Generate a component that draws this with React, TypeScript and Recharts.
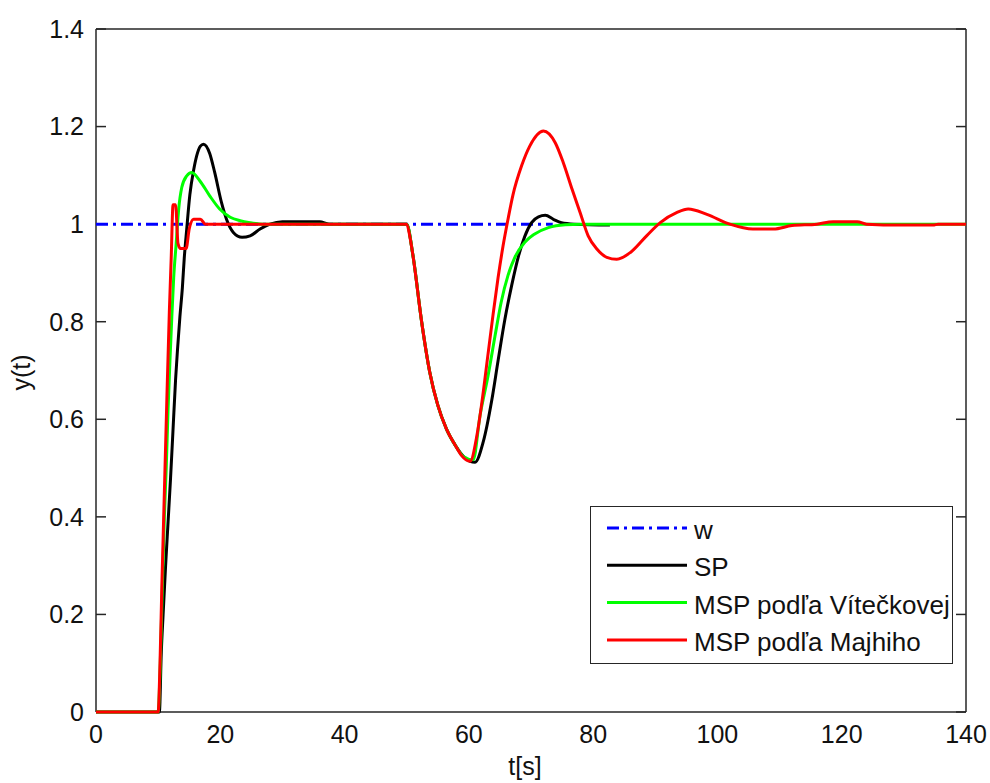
import React from 'react';
import { LineChart, Line, XAxis, YAxis, Legend, Label, CartesianGrid } from 'recharts';

const xTicks = [0, 20, 40, 60, 80, 100, 120, 140];
const yTicks = [0, 0.2, 0.4, 0.6, 0.8, 1, 1.2, 1.4];

const wTime = [0, 73.5];
const wValues = [1, 1];

const spTime = [0, 10.2, 10.5, 10.8, 11.2, 11.6, 12.0, 12.4, 12.8, 13.1, 13.5, 13.9, 14.2, 14.6, 15.1, 15.7, 16.2, 16.8, 17.3, 18.3, 19.1, 20.2, 21.0, 22.1, 23.5, 24.8, 26.4, 28, 30, 36, 37.5, 50, 51, 52.4, 53.7, 55, 56.4, 57.8, 59.1, 60.2, 61, 62.3, 63.7, 64.7, 65.8, 66.9, 68, 69, 70.1, 71.2, 72.3, 73.6, 74.9, 77, 82.7];
const spValues = [0, 0, 0.12, 0.2, 0.3, 0.39, 0.48, 0.58, 0.68, 0.74, 0.81, 0.87, 0.93, 0.99, 1.06, 1.11, 1.14, 1.16, 1.164, 1.145, 1.106, 1.044, 1.01, 0.983, 0.973, 0.976, 0.99, 1.0, 1.005, 1.005, 1.0, 1.0, 0.936, 0.8, 0.697, 0.629, 0.58, 0.547, 0.524, 0.514, 0.512, 0.553, 0.64, 0.72, 0.805, 0.875, 0.935, 0.975, 1.003, 1.015, 1.018, 1.01, 1.003, 1.0, 0.998];

const vitTime = [0, 10.0, 10.3, 10.6, 11.0, 11.3, 11.6, 11.9, 12.2, 12.5, 12.9, 13.3, 13.8, 14.6, 15.4, 16.7, 18.3, 19.9, 21.6, 23.2, 24.8, 27, 50, 51, 52.4, 53.7, 55, 56.4, 57.8, 59.1, 60.7, 61.8, 63.1, 64.2, 65.2, 66.3, 67.4, 69, 70.6, 72.8, 75.5, 78, 140];
const vitValues = [0, 0, 0.08, 0.22, 0.4, 0.5, 0.62, 0.72, 0.81, 0.89, 0.96, 1.03, 1.075, 1.099, 1.106, 1.089, 1.058, 1.031, 1.014, 1.007, 1.003, 1.0, 1.0, 0.936, 0.8, 0.697, 0.629, 0.58, 0.547, 0.524, 0.517, 0.608, 0.69, 0.77, 0.84, 0.895, 0.932, 0.963, 0.98, 0.993, 0.999, 1.0, 1.0];

const majTime = [0, 10.0, 10.3, 10.6, 11.0, 11.4, 11.8, 12.1, 12.4, 12.8, 13.2, 13.6, 14.5, 15.0, 15.7, 16.8, 17.6, 50, 50.5, 51, 52.4, 53.7, 55, 56.4, 57.8, 58.8, 60.2, 61.3, 62.1, 63.1, 63.9, 64.7, 65.5, 66.3, 67.1, 68.5, 69.8, 72, 73.9, 75.2, 76.6, 77.9, 79.2, 80.6, 82.2, 83.8, 86, 88.6, 90.8, 93.5, 95.3, 98.3, 102, 105.7, 109, 112, 116, 118.6, 122.5, 124, 129.4, 134.7, 135.5, 140];
const majValues = [0, 0, 0.1, 0.26, 0.45, 0.64, 0.82, 0.93, 1.04, 1.04, 0.96, 0.95, 0.95, 0.99, 1.01, 1.01, 1.0, 1.0, 0.975, 0.936, 0.8, 0.697, 0.629, 0.58, 0.547, 0.526, 0.514, 0.567, 0.635, 0.735, 0.815, 0.89, 0.955, 1.01, 1.06, 1.12, 1.16, 1.191, 1.167, 1.126, 1.072, 1.024, 0.976, 0.949, 0.932, 0.928, 0.942, 0.976, 1.003, 1.024, 1.031, 1.02, 1.0, 0.99, 0.99, 0.997, 1.0, 1.005, 1.005, 1.0, 0.998, 0.998, 1.0, 1.0];

const seriesNames = ['w', 'SP', 'MSP podľa Vítečkovej', 'MSP podľa Majhiho'];
const seriesColors = ['#0000ff', '#000000', '#00ff00', '#ff0000'];
const seriesDash = ['12 5 3 5', undefined, undefined, undefined];

const toPoints = (ts: number[], vs: number[]) => ts.map((t, i) => ({ t, y: vs[i] }));

const seriesData = [
  toPoints(wTime, wValues),
  toPoints(spTime, spValues),
  toPoints(vitTime, vitValues),
  toPoints(majTime, majValues),
];

const FONT = '"Liberation Sans", Arial, Helvetica, sans-serif';
const AXIS = '#262626';

const noTick = () => <g />;

const bottomEdge = (props: any) => {
  const o = props.offset || {};
  return [(o.top ?? 0) + (o.height ?? 0)];
};

const renderLegend = () => (
  <div
    style={{
      width: 363,
      height: 158,
      border: `1.5px solid ${AXIS}`,
      background: '#fff',
      boxSizing: 'border-box',
    }}
  >
    <svg width={360} height={155} style={{ display: 'block' }}>
      {seriesNames.map((name, i) => {
        const base = 32 + i * 37.3;
        return (
          <g key={name}>
            <line
              x1={16}
              x2={96}
              y1={base - 11}
              y2={base - 11}
              stroke={seriesColors[i]}
              strokeWidth={3}
              strokeDasharray={seriesDash[i]}
            />
            <text x={103} y={base} fontSize={26} fontFamily={FONT} fill="#111">
              {name}
            </text>
          </g>
        );
      })}
    </svg>
  </div>
);

const renderYLabel = (props: any) => {
  const vb = props.viewBox || {};
  const cx = (vb.x ?? 0) + 30;
  const cy = (vb.y ?? 0) + (vb.height ?? 0) / 2 + 2;
  return (
    <text
      x={cx}
      y={cy}
      transform={`rotate(-90 ${cx} ${cy})`}
      textAnchor="middle"
      fontSize={25}
      fontFamily={FONT}
      fill="#111"
    >
      y(t)
    </text>
  );
};

const renderXLabel = (props: any) => {
  const vb = props.viewBox || {};
  const cx = (vb.x ?? 0) + (vb.width ?? 0) / 2 - 6;
  const cy = (vb.y ?? 0) + 63;
  return (
    <text x={cx} y={cy} textAnchor="middle" fontSize={25} fontFamily={FONT} fill="#111">
      t[s]
    </text>
  );
};

export default function App() {
  const tickStyle = { fontSize: 25, fontFamily: FONT, fill: '#111' };
  const tickLineStyle = { stroke: AXIS, strokeWidth: 1.5 };
  return (
    <div style={{ position: 'absolute', left: 0, top: 0, background: '#fff' }}>
      <LineChart width={990} height={783} margin={{ top: 29, right: 24, bottom: 0, left: 0 }}>
        <CartesianGrid
          xAxisId="x"
          yAxisId="y"
          vertical={false}
          horizontalCoordinatesGenerator={bottomEdge}
          stroke={AXIS}
          strokeWidth={1.5}
          strokeDasharray="none"
        />
        <XAxis
          xAxisId="x"
          type="number"
          dataKey="t"
          domain={[0, 140]}
          ticks={xTicks}
          tickLine={false}
          tickSize={6}
          tickMargin={7}
          height={71}
          tick={tickStyle}
          axisLine={false}
        >
          <Label content={renderXLabel} />
        </XAxis>
        <XAxis
          xAxisId="xin"
          orientation="bottom"
          mirror
          type="number"
          domain={[0, 140]}
          allowDataOverflow
          ticks={xTicks}
          tick={noTick}
          tickSize={10}
          axisLine={false}
          tickLine={tickLineStyle}
        />
        <XAxis
          xAxisId="xtop"
          orientation="top"
          mirror
          type="number"
          domain={[0, 140]}
          allowDataOverflow
          ticks={xTicks}
          tick={noTick}
          tickSize={10}
          axisLine={{ stroke: AXIS, strokeWidth: 1.5 }}
          tickLine={tickLineStyle}
        />
        <YAxis
          yAxisId="y"
          type="number"
          domain={[0, 1.4]}
          ticks={yTicks}
          tickLine={false}
          tickSize={6}
          tickMargin={6}
          width={96}
          tick={tickStyle}
          axisLine={{ stroke: AXIS, strokeWidth: 1.5 }}
        >
          <Label content={renderYLabel} />
        </YAxis>
        <YAxis
          yAxisId="yin"
          orientation="left"
          mirror
          type="number"
          domain={[0, 1.4]}
          allowDataOverflow
          ticks={yTicks}
          tick={noTick}
          tickSize={10}
          axisLine={false}
          tickLine={tickLineStyle}
        />
        <YAxis
          yAxisId="yright"
          orientation="right"
          mirror
          type="number"
          domain={[0, 1.4]}
          allowDataOverflow
          ticks={yTicks}
          tick={noTick}
          tickSize={10}
          axisLine={{ stroke: AXIS, strokeWidth: 1.5 }}
          tickLine={tickLineStyle}
        />
        {seriesNames.map((name, i) => (
          <Line
            key={name}
            xAxisId="x"
            yAxisId="y"
            data={seriesData[i]}
            dataKey="y"
            name={name}
            type="monotone"
            stroke={seriesColors[i]}
            strokeWidth={3}
            strokeDasharray={seriesDash[i]}
            dot={false}
            activeDot={false}
            isAnimationActive={false}
            {...({ zIndex: 700 } as any)}
          />
        ))}
        <Legend
          layout="vertical"
          align="center"
          verticalAlign="middle"
          content={renderLegend}
          wrapperStyle={{ left: 590, top: 506, width: 363, height: 158 }}
        />
      </LineChart>
    </div>
  );
}
